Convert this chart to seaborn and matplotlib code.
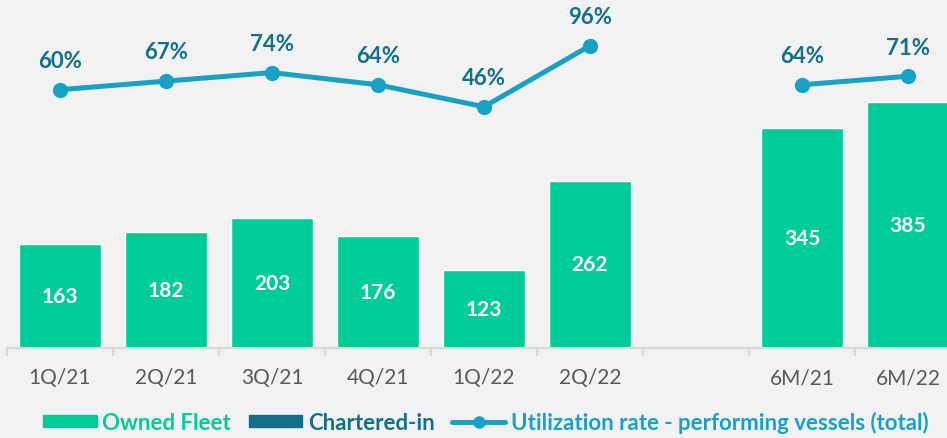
import numpy as np
import pandas as pd
import matplotlib
matplotlib.use("Agg")
import matplotlib.pyplot as plt
from matplotlib.patches import Patch
from matplotlib.lines import Line2D
import seaborn as sns

CATEGORIES = ["1Q/21", "2Q/21", "3Q/21", "4Q/21", "1Q/22", "2Q/22", "", "6M/21", "6M/22"]
OWNED = [163, 182, 203, 176, 123, 262, np.nan, 345, 385]
CHARTERED = [0, 0, 0, 0, 0, 0, np.nan, 0, 0]
UTIL = [60, 67, 74, 64, 46, 96, np.nan, 64, 71]

GREEN = "#00CC9A"
DARK = "#13708A"
LINE = "#17A2C5"
BG = "#F2F2F2"
GRAY = "#D9D9D9"

sns.set_style("white", {"axes.facecolor": BG, "figure.facecolor": BG})
plt.rcParams["font.family"] = ["Lato", "DejaVu Sans"]

fig = plt.figure(figsize=(9.47, 4.39), dpi=100)
W, H = 947, 439
# axes spans beyond right edge like the original crop
ax = fig.add_axes([7 / W, (H - 349) / H, 954 / W, 349 / H])

df = pd.DataFrame({"cat": CATEGORIES, "owned": OWNED, "util": UTIL})
sns.barplot(data=df, x="cat", y="owned", order=CATEGORIES, color=GREEN,
            saturation=1, width=0.77, ax=ax)
ax.set_ylim(0, 349 / 0.638)
ax.set_xlim(-0.5, len(CATEGORIES) - 0.5)

for i, v in enumerate(OWNED):
    if not np.isnan(v):
        ax.text(i, v / 2, f"{v:.0f}", ha="center", va="center", color="white",
                fontsize=15, fontweight="bold")

for s in ["top", "right", "left"]:
    ax.spines[s].set_visible(False)
ax.spines["bottom"].set_color(GRAY)
ax.spines["bottom"].set_linewidth(1.5)
ax.set_yticks([])
ax.set_xlabel("")
ax.set_ylabel("")
ax.set_xticks(range(len(CATEGORIES)))
ax.set_xticklabels(CATEGORIES, fontsize=15, color="#595959")
ax.tick_params(axis="x", which="major", length=0, pad=14)
ax.set_xticks(np.arange(-0.5, len(CATEGORIES)), minor=True)
ax.tick_params(axis="x", which="minor", bottom=True, length=6, width=1.5, color=GRAY,
               direction="out")

ax2 = ax.twinx()
x = np.arange(len(CATEGORIES))
ax2.plot(x, UTIL, color=LINE, lw=3.6, marker="o", markersize=10, solid_capstyle="round")
ax2.set_ylim(-185 / 1.222, 164 / 1.222)
ax2.set_yticks([])
for s in ["top", "right", "left", "bottom"]:
    ax2.spines[s].set_visible(False)
for i, v in enumerate(UTIL):
    if not np.isnan(v):
        ax2.annotate(f"{v:.0f}%", (i, v), xytext=(0, 21), textcoords="offset points",
                     ha="center", va="center", color=DARK, fontsize=16, fontweight="bold")

handles = [Patch(color=GREEN), Patch(color=DARK),
           Line2D([0], [0], color=LINE, lw=3.6, marker="o", markersize=8)]
labels = ["Owned Fleet", "Chartered-in", "Utilization rate - performing vessels (total)"]
leg = fig.legend(handles, labels, loc="center", bbox_to_anchor=(486 / W, 16 / H), ncol=3,
                 frameon=False, handlelength=2.4, handleheight=0.5, handletextpad=0.25,
                 columnspacing=0.8, labelcolor=[GREEN, DARK, LINE],
                 prop={"weight": "bold", "size": 16})

fig.savefig("out.png", dpi=100, facecolor=BG)
